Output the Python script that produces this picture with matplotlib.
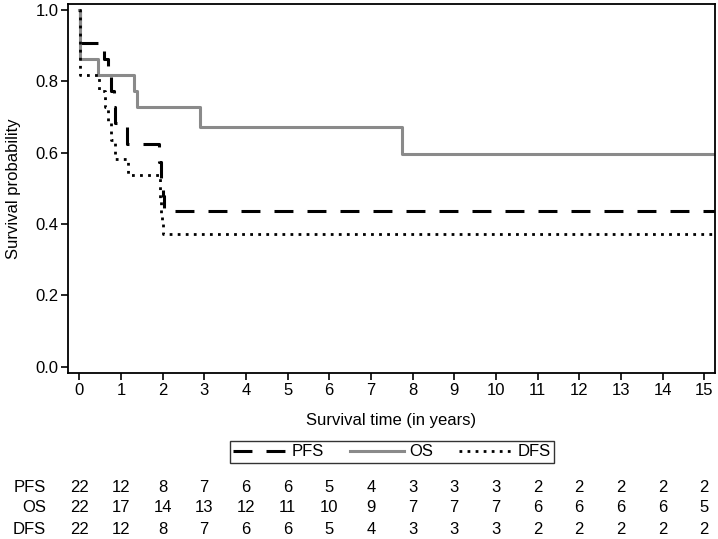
import matplotlib
matplotlib.use("Agg")
import matplotlib.pyplot as plt
from matplotlib.lines import Line2D

plt.rcParams['font.family'] = ['Liberation Sans', 'DejaVu Sans']

# Kaplan-Meier step curves
pfs_t = [0, 0.03, 0.60, 0.68, 0.76, 0.83, 0.86, 1.14, 1.92, 1.97, 2.00, 2.03, 15.26]
pfs_s = [1.0, 0.909, 0.864, 0.818, 0.773, 0.727, 0.682, 0.625, 0.573, 0.521, 0.478, 0.435, 0.435]

os_t = [0, 0.02, 0.45, 1.32, 1.38, 2.90, 7.75, 15.26]
os_s = [1.0, 0.864, 0.818, 0.773, 0.727, 0.673, 0.597, 0.597]

dfs_t = [0, 0.03, 0.47, 0.61, 0.70, 0.76, 0.85, 1.17, 1.95, 1.97, 1.99, 2.01, 15.26]
dfs_s = [1.0, 0.818, 0.773, 0.727, 0.682, 0.636, 0.583, 0.536, 0.469, 0.42, 0.40, 0.373, 0.373]

# numbers at risk
years = list(range(16))
risk_labels = ["PFS", "OS", "DFS"]
pfs_risk = [22, 12, 8, 7, 6, 6, 5, 4, 3, 3, 3, 2, 2, 2, 2, 2]
os_risk = [22, 17, 14, 13, 12, 11, 10, 9, 7, 7, 7, 6, 6, 6, 6, 5]
dfs_risk = [22, 12, 8, 7, 6, 6, 5, 4, 3, 3, 3, 2, 2, 2, 2, 2]

fs = 12
fig = plt.figure(figsize=(7.18, 5.39), dpi=100)
ax = fig.add_axes([68/718, 1 - 373/539, (715-68)/718, (373-4)/539])

ax.step(pfs_t, pfs_s, where='post', color='black', lw=2.2, dashes=(6.2, 4.6), label='PFS')
ax.step(os_t, os_s, where='post', color='#8a8a8a', lw=2.2, label='OS')
ax.step(dfs_t, dfs_s, where='post', color='black', lw=2.0, dashes=(1.0, 1.9), label='DFS')

ax.set_xlim(-0.27, 15.26)
ax.set_ylim(-0.018, 1.017)
ax.set_xticks(years)
ax.set_yticks([0.0, 0.2, 0.4, 0.6, 0.8, 1.0])
ax.set_yticklabels(["0.0", "0.2", "0.4", "0.6", "0.8", "1.0"])
ax.tick_params(direction='out', length=5, width=1.2, labelsize=fs, colors='black', pad=2)
for s in ax.spines.values():
    s.set_linewidth(1.3)

ax.set_xlabel("Survival time (in years)", fontsize=fs)
ax.xaxis.set_label_coords(0.5, -0.108)
ax.set_ylabel("Survival probability", fontsize=fs)
ax.yaxis.set_label_coords(-0.072, 0.5)

handles = [
    Line2D([], [], color='black', lw=2.2, dashes=(6.2, 4.6)),
    Line2D([], [], color='#8a8a8a', lw=2.2),
    Line2D([], [], color='black', lw=2.0, dashes=(1.0, 1.9)),
]
leg = fig.legend(handles, ["PFS", "OS", "DFS"], loc='center', ncol=3,
                 bbox_to_anchor=(392/718, 1 - 452/539), frameon=True, fancybox=False,
                 edgecolor='black', fontsize=fs, handlelength=3.2, handletextpad=0.3,
                 columnspacing=1.6, borderpad=0.2)
leg.get_frame().set_linewidth(1.0)

# risk table
row_y = [487, 508, 530]
for lab, vals, yy in zip(risk_labels, [pfs_risk, os_risk, dfs_risk], row_y):
    fy = 1 - yy/539
    fig.text(46/718, fy, lab, ha='right', va='center', fontsize=fs)
    for yr, v in zip(years, vals):
        x_disp = ax.transData.transform((yr, 0))[0]
        fig.text(x_disp / fig.bbox.width, fy, str(v), ha='center', va='center', fontsize=fs)

fig.savefig("out.png", dpi=100)
